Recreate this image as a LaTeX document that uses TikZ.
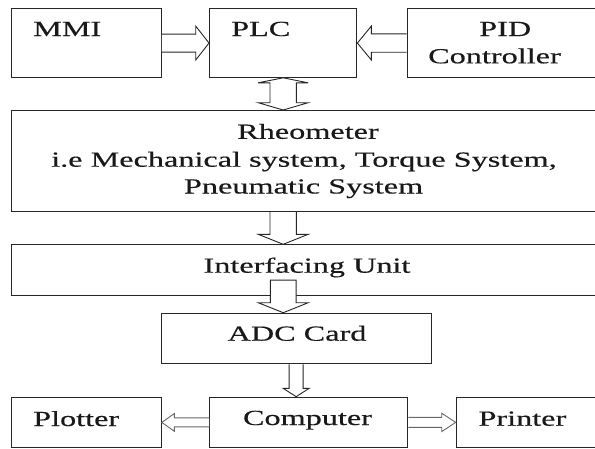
\documentclass[tikz,border=0pt]{standalone}
\usepackage{fontspec}
\setmainfont{Liberation Serif}[FakeStretch=1.5,FakeBold=0.4]
\usetikzlibrary{calc}
\begin{document}
\begin{tikzpicture}[x=1pt,y=-1pt,
  box/.style={draw=black!85, line width=1.1pt, rectangle, inner sep=0pt, anchor=north west},
  txt/.style={inner sep=0pt, font=\fontsize{21.5}{25}\selectfont, text=black!90},
  arr/.style={draw=black!85, line width=0.9pt, fill=white, line join=miter},
  garr/.style={draw=black!60, line width=0.9pt, fill=white, line join=miter}]
\useasboundingbox (0,0) rectangle (595,448);
% boxes
\node[box, minimum width=149.7pt, minimum height=68.4pt] (mmi) at (11,8.3) {};
\node[box, minimum width=147.3pt, minimum height=68.4pt] (plc) at (209,8.3) {};
\node[box, minimum width=190.3pt, minimum height=68.4pt] (pid) at (406.7,8.3) {};
\node[box, minimum width=586pt, minimum height=101pt] (rheo) at (11,110) {};
\node[box, minimum width=586pt, minimum height=50.7pt] (ifu) at (11,244.3) {};
\node[box, minimum width=269.8pt, minimum height=50.6pt] (adc) at (160.7,312.7) {};
\node[box, minimum width=149.7pt, minimum height=50.3pt] (plot) at (11,396.7) {};
\node[box, minimum width=198.3pt, minimum height=50.3pt] (comp) at (209,396.7) {};
\node[box, minimum width=141.3pt, minimum height=50.3pt] (print) at (455.7,396.7) {};
% texts
\node[txt, anchor=base west] (tmmi) at (33,36) {MMI};
\node[txt, anchor=base west] (tplc) at (231,36) {PLC};
\node[txt, anchor=base west] (tpid) at (479,36) {PID};
\node[txt, anchor=base west] (tctl) at (428,63.3) {Controller};
\node[txt, anchor=base] (trh1) at (308,138.8) {Rheometer};
\node[txt, anchor=base] (trh2) at (304,166.7) {i.e Mechanical system, Torque System,};
\node[txt, anchor=base] (trh3) at (303.6,193.5) {Pneumatic System};
\node[txt, anchor=base] (tifu) at (307,272.7) {Interfacing Unit};
\node[txt, anchor=base] (tadc) at (297,340.7) {ADC Card};
\node[txt, anchor=base] (tcomp) at (307.5,425) {Computer};
\node[txt, anchor=base west] (tplot) at (33,426) {Plotter};
\node[txt, anchor=base west] (tprint) at (478.3,425.7) {Printer};
% MMI -> PLC
\draw[arr] ($(mmi.east)+(0,-9)$) -- ($(plc.west)+(-13.3,-9)$) -- ($(plc.west)+(-13.3,-17)$) -- (plc.west)
  -- ($(plc.west)+(-13.3,17)$) -- ($(plc.west)+(-13.3,9)$) -- ($(mmi.east)+(0,9)$);
% PID -> PLC
\draw[arr] ($(pid.west)+(0,-9.2)$) -- ($(plc.east)+(14,-9.2)$) -- ($(plc.east)+(14,-17)$) -- (plc.east)
  -- ($(plc.east)+(14,17)$) -- ($(plc.east)+(14,9.2)$) -- ($(pid.west)+(0,9.2)$);
% PLC <-> Rheometer
\coordinate (r1) at (plc.south |- rheo.north);
\draw[arr] (plc.south) -- ($(plc.south)+(25,5)$) -- ($(plc.south)+(13.2,5)$) -- ($(r1)+(13.2,-7.3)$)
  -- ($(r1)+(25,-7.3)$) -- (r1) -- ($(r1)+(-25,-7.3)$) -- ($(r1)+(-13.2,-7.3)$)
  -- ($(plc.south)+(-13.2,5)$) -- ($(plc.south)+(-25,5)$) -- cycle;
% Rheometer -> Interfacing Unit
\coordinate (a2s) at (plc.south |- rheo.south);
\coordinate (a2e) at (plc.south |- ifu.north);
\draw[arr] ($(a2s)+(-13.2,0)$) -- ($(a2e)+(-13.2,-10)$) -- ($(a2e)+(-25,-10)$) -- (a2e)
  -- ($(a2e)+(25,-10)$) -- ($(a2e)+(13.2,-10)$) -- ($(a2s)+(13.2,0)$);
% Interfacing Unit -> ADC Card
\coordinate (a3s) at ($(plc.south |- ifu.south)+(0,-16)$);
\coordinate (a3e) at (plc.south |- adc.north);
\draw[arr] ($(a3s)+(-12.9,0)$) -- ($(a3e)+(-12.9,-10)$) -- ($(a3e)+(-25,-10)$) -- (a3e)
  -- ($(a3e)+(25,-10)$) -- ($(a3e)+(12.9,-10)$) -- ($(a3s)+(12.9,0)$) -- cycle;
% ADC Card -> Computer
\coordinate (a4e) at (adc.south |- comp.north);
\draw[arr] ($(adc.south)+(-7,0)$) -- ($(a4e)+(-7,-8.4)$) -- ($(a4e)+(-13,-8.4)$) -- (a4e)
  -- ($(a4e)+(13,-8.4)$) -- ($(a4e)+(7,-8.4)$) -- ($(adc.south)+(7,0)$);
% Computer -> Plotter
\draw[garr] ($(comp.west)+(0,-4.5)$) -- ($(plot.east)+(12.6,-4.5)$) -- ($(plot.east)+(12.6,-8.9)$) -- (plot.east)
  -- ($(plot.east)+(12.6,8.9)$) -- ($(plot.east)+(12.6,4.5)$) -- ($(comp.west)+(0,4.5)$);
% Computer -> Printer
\draw[garr] ($(comp.east)+(0,-5)$) -- ($(print.west)+(-14,-5)$) -- ($(print.west)+(-14,-9.2)$) -- (print.west)
  -- ($(print.west)+(-14,9.2)$) -- ($(print.west)+(-14,5)$) -- ($(comp.east)+(0,5)$);
\end{tikzpicture}
\end{document}
